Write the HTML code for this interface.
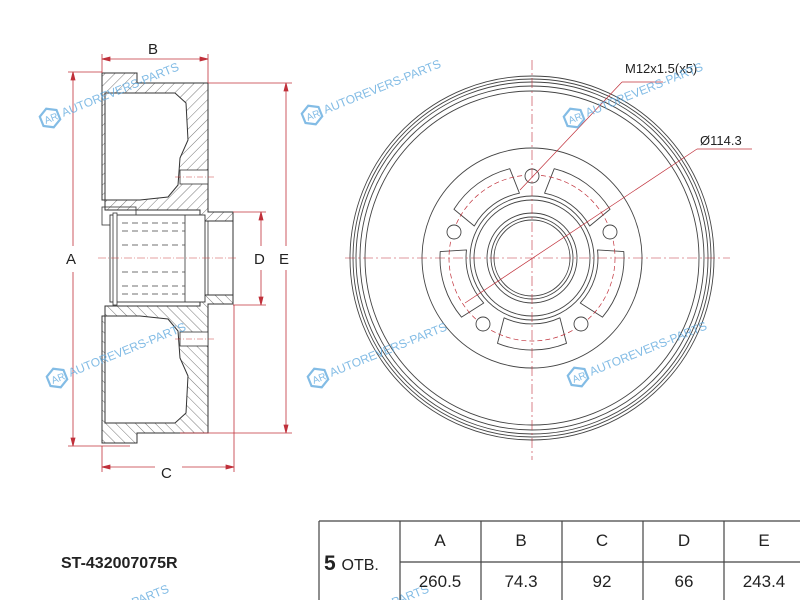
<!DOCTYPE html>
<html><head><meta charset="utf-8"><style>
html,body{margin:0;padding:0;background:#fff;overflow:hidden}
svg{display:block}
text{font-family:"Liberation Sans",Arial,sans-serif}
</style></head><body>
<svg width="800" height="600" viewBox="0 0 800 600" xmlns="http://www.w3.org/2000/svg">
<defs>
<pattern id="h" patternUnits="userSpaceOnUse" width="7" height="7" patternTransform="rotate(45)">
<line x1="0" y1="0" x2="0" y2="7" stroke="#555" stroke-width="0.8"/>
</pattern>
<g id="wm" opacity="0.75">
<polygon points="0,-10 9,-5 9,5 0,10 -9,5 -9,-5" fill="none" stroke="#5aa6dd" stroke-width="2.2"/>
<text x="-6" y="4" font-size="10" fill="#5aa6dd">AR</text>
<text x="13" y="4" font-size="12" fill="#5aa6dd">AUTOREVERS-PARTS</text>
</g>
<g id="half">
<path fill-rule="evenodd" fill="url(#h)" stroke="#333" stroke-width="1"
 d="M102,73 L137,73 L137,83 L208,83 L208,212 L233,212 L233,221 L200,221 L200,210 L105,210 L105,200 L102,200 Z
    M105,93 L175,93 L186,103 L188,140 L180,158 L178,185 L168,197 L140,200 L105,200 Z"/>
<rect x="180" y="170" width="28" height="14" fill="#fff" stroke="#333" stroke-width="0.8"/>
<line x1="175" y1="177" x2="215" y2="177" stroke="#c44" stroke-width="0.6" stroke-dasharray="6,2,1,2"/>
</g>
<path id="win" d="M-27.9,59.8 A66,66 0 0 0 27.9,59.8 L34.5,85.3 A92,92 0 0 1 -34.5,85.3 Z" fill="none" stroke="#444" stroke-width="0.9" stroke-linejoin="round"/>
</defs>

<!-- left section -->
<use href="#half"/>
<use href="#half" transform="translate(0,516) scale(1,-1)"/>
<rect x="200" y="221" width="33" height="74" fill="#fff" stroke="#333" stroke-width="1"/>
<line x1="208" y1="221" x2="208" y2="295" stroke="#333" stroke-width="0.8"/>
<rect x="102" y="207" width="34" height="18" fill="none" stroke="#333" stroke-width="0.8"/>
<rect x="110" y="215" width="95" height="87" fill="#fff" stroke="#333" stroke-width="0.9"/>
<rect x="113" y="213" width="4" height="92" fill="#fff" stroke="#333" stroke-width="0.8"/>
<line x1="185" y1="215" x2="185" y2="302" stroke="#333" stroke-width="0.8"/>
<g stroke="#444" stroke-width="0.8" stroke-dasharray="6,4" fill="none">
<line x1="122" y1="223" x2="185" y2="223"/><line x1="122" y1="231" x2="185" y2="231"/>
<line x1="122" y1="245" x2="185" y2="245"/>
<line x1="122" y1="272" x2="185" y2="272"/>
<line x1="122" y1="286" x2="185" y2="286"/><line x1="122" y1="294" x2="185" y2="294"/>
</g>
<line x1="98" y1="258" x2="238" y2="258" stroke="#c44" stroke-width="0.6" stroke-dasharray="8,2,1,2"/>

<!-- dimensions -->
<g stroke="#c0303a" stroke-width="0.8" fill="#c0303a">
<line x1="73" y1="72" x2="73" y2="246"/><line x1="73" y1="272" x2="73" y2="446"/>
<line x1="68" y1="72" x2="102" y2="72"/><line x1="68" y1="446" x2="130" y2="446"/>
<line x1="286" y1="83" x2="286" y2="246"/><line x1="286" y1="270" x2="286" y2="433"/>
<line x1="208" y1="83" x2="292" y2="83"/><line x1="180" y1="433" x2="292" y2="433"/>
<line x1="261" y1="212" x2="261" y2="246"/><line x1="261" y1="270" x2="261" y2="305"/>
<line x1="233" y1="212" x2="266" y2="212"/><line x1="233" y1="305" x2="266" y2="305"/>
<line x1="102" y1="59" x2="208" y2="59"/><line x1="102" y1="54" x2="102" y2="73"/><line x1="208" y1="54" x2="208" y2="83"/>
<line x1="102" y1="467" x2="155" y2="467"/><line x1="182" y1="467" x2="234" y2="467"/>
<line x1="102" y1="446" x2="102" y2="472"/><line x1="234" y1="305" x2="234" y2="472"/>
<polygon points="73,72 71,80 75,80"/><polygon points="73,446 71,438 75,438"/>
<polygon points="286,83 284,91 288,91"/><polygon points="286,433 284,425 288,425"/>
<polygon points="261,212 259,220 263,220"/><polygon points="261,305 259,297 263,297"/>
<polygon points="102,59 110,57 110,61"/><polygon points="208,59 200,57 200,61"/>
<polygon points="102,467 110,465 110,469"/><polygon points="234,467 226,465 226,469"/>
</g>
<g font-size="15" fill="#222">
<text x="148" y="54">B</text><text x="66" y="264">A</text><text x="254" y="264">D</text>
<text x="279" y="264">E</text><text x="161" y="478">C</text>
</g>

<!-- right drum -->
<g fill="none" stroke="#444" stroke-width="0.9">
<circle cx="532" cy="258" r="182"/><circle cx="532" cy="258" r="179"/>
<circle cx="532" cy="258" r="176"/><circle cx="532" cy="258" r="172"/>
<circle cx="532" cy="258" r="167"/>
<circle cx="532" cy="258" r="110"/>
<circle cx="532" cy="258" r="62"/><circle cx="532" cy="258" r="58"/>
<circle cx="532" cy="258" r="45"/><circle cx="532" cy="258" r="41"/><circle cx="532" cy="258" r="38"/>
</g>
<g transform="translate(532,258)">
<use href="#win"/>
<use href="#win" transform="rotate(72)"/>
<use href="#win" transform="rotate(144)"/>
<use href="#win" transform="rotate(216)"/>
<use href="#win" transform="rotate(288)"/>
</g>
<circle cx="532" cy="258" r="83" fill="none" stroke="#c0303a" stroke-width="0.7" stroke-dasharray="5,3"/>
<g fill="#fff" stroke="#444" stroke-width="0.9">
<circle cx="532" cy="176" r="7"/><circle cx="610" cy="232" r="7"/><circle cx="454" cy="232" r="7"/>
<circle cx="581" cy="324" r="7"/><circle cx="483" cy="324" r="7"/>
</g>
<g stroke="#c0303a" stroke-width="0.6" stroke-dasharray="10,3,2,3">
<line x1="532" y1="60" x2="532" y2="460"/><line x1="345" y1="258" x2="730" y2="258"/>
</g>
<g stroke="#c0303a" stroke-width="0.7">
<line x1="622" y1="82" x2="663" y2="82"/><line x1="622" y1="82" x2="520" y2="190"/>
<line x1="697" y1="149" x2="752" y2="149"/><line x1="697" y1="149" x2="465" y2="303"/>
</g>
<g font-size="13" fill="#222">
<text x="625" y="73">M12x1.5(x5)</text><text x="700" y="145">Ø114.3</text>
</g>

<!-- watermarks -->
<use href="#wm" transform="translate(50,118) rotate(-22)"/>
<use href="#wm" transform="translate(312,115) rotate(-22)"/>
<use href="#wm" transform="translate(574,118) rotate(-22)"/>
<use href="#wm" transform="translate(57,378) rotate(-22)"/>
<use href="#wm" transform="translate(318,378) rotate(-22)"/>
<use href="#wm" transform="translate(578,377) rotate(-22)"/>
<use href="#wm" transform="translate(40,640) rotate(-22)"/>
<use href="#wm" transform="translate(300,640) rotate(-22)"/>

<!-- bottom -->
<text x="61" y="568" font-size="16" font-weight="bold" fill="#222">ST-432007075R</text>
<g stroke="#444" stroke-width="1.2" fill="none">
<line x1="319" y1="521" x2="800" y2="521"/><line x1="400" y1="562" x2="800" y2="562"/>
<line x1="319" y1="521" x2="319" y2="600"/><line x1="400" y1="521" x2="400" y2="600"/>
<line x1="481" y1="521" x2="481" y2="600"/><line x1="562" y1="521" x2="562" y2="600"/>
<line x1="643" y1="521" x2="643" y2="600"/><line x1="724" y1="521" x2="724" y2="600"/>
</g>
<text x="324" y="570" font-size="21" font-weight="bold" fill="#222">5 <tspan font-size="16" font-weight="normal">ОТВ.</tspan></text>
<g font-size="17" fill="#222" text-anchor="middle">
<text x="440" y="546">A</text><text x="521" y="546">B</text><text x="602" y="546">C</text>
<text x="684" y="546">D</text><text x="764" y="546">E</text>
<text x="440" y="587">260.5</text><text x="521" y="587">74.3</text><text x="602" y="587">92</text>
<text x="684" y="587">66</text><text x="764" y="587">243.4</text>
</g>
</svg>
</body></html>
